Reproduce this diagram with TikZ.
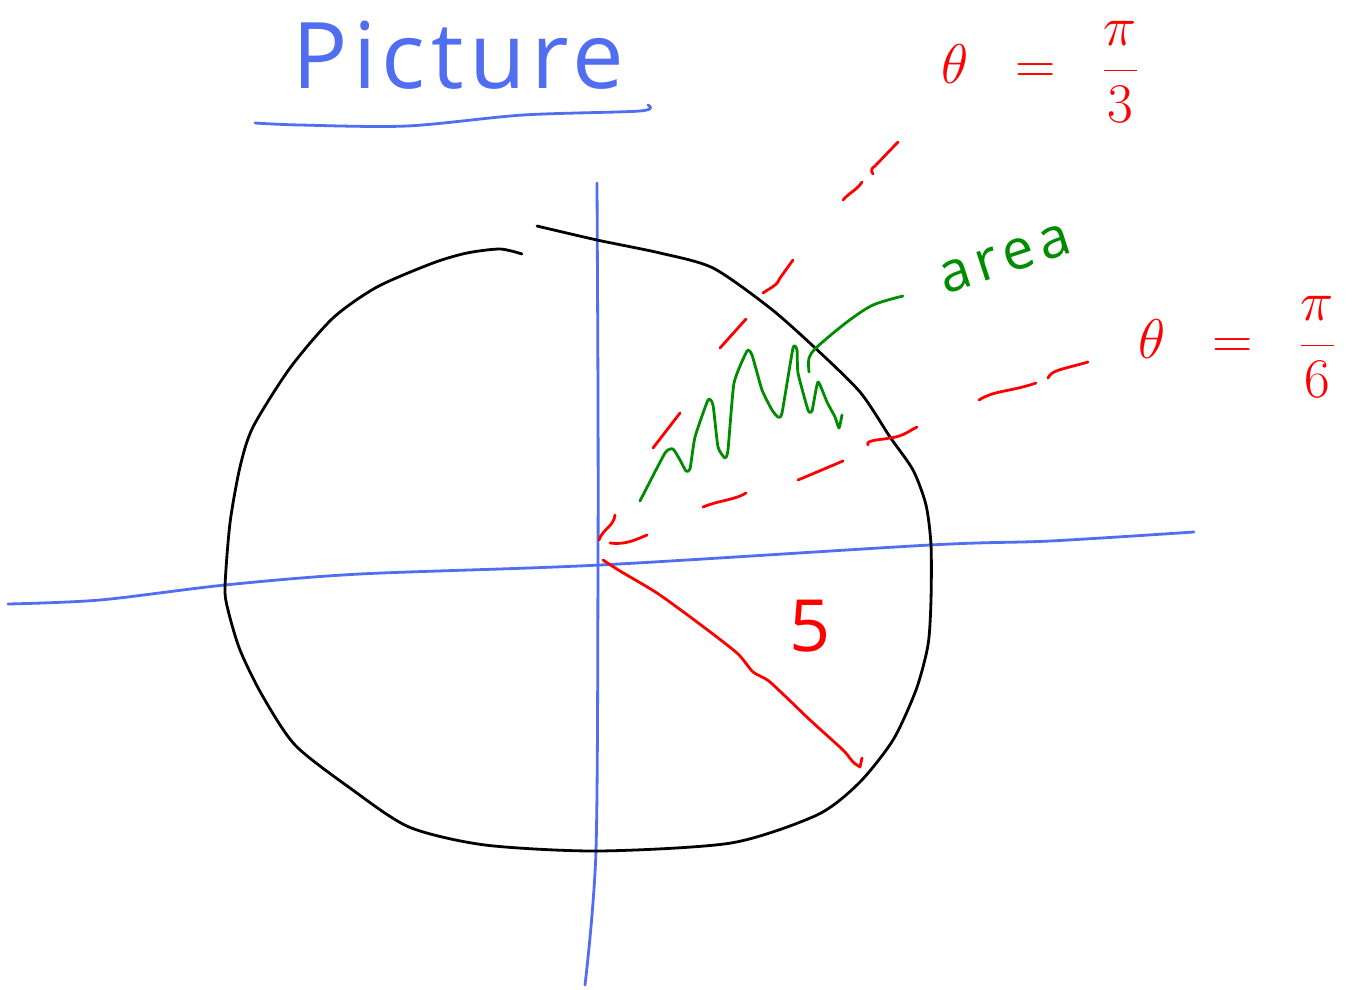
\RequirePackage{fix-cm}
\documentclass[tikz,border=0pt]{standalone}
\usepackage{fontspec}
\setsansfont{Open Sans}
\definecolor{penblue}{RGB}{82,110,240}
\definecolor{penred}{RGB}{255,0,0}
\definecolor{pengreen}{RGB}{0,140,0}
\tikzset{
  pen/.style={line width=2.8pt,line cap=round,line join=round},
  bluepen/.style={pen,draw=penblue},
  redpen/.style={pen,draw=penred},
  greenpen/.style={pen,draw=pengreen},
  blackpen/.style={pen,draw=black},
  label/.style={inner sep=0pt}
}
\begin{document}
\begin{tikzpicture}[x=1pt,y=-1pt]
\useasboundingbox (0,0) rectangle (1358,989);
\fill[white] (0,0) rectangle (1358,989);

% title
\node[label,anchor=base west,font=\sffamily\fontsize{92}{92}\selectfont\addfontfeature{LetterSpace=6},text=penblue] (title) at (292,88) {Picture};
\draw[bluepen] plot[smooth,tension=0.5] coordinates {(255,123) (300,125) (407,126) (523,115) (640,111) (648,105)};

% axes
\draw[bluepen] plot[smooth,tension=0.5] coordinates {(597,183) (598,400) (598,565) (596,850) (585,985)};
\draw[bluepen] plot[smooth,tension=0.5] coordinates {(8,604) (100,600) (225,585) (360,574) (600,565) (930,545) (1050,541) (1194,532)};

% curve
\draw[blackpen] plot[smooth,tension=0.45] coordinates {
 (537,226) (597,240) (660,253) (713,268) (770,308) (813,346) (860,392) (890,437) (913,470)
 (926,505) (931,545) (931,600) (928,645) (916,690) (893,740) (859,783) (817,815) (731,843)
 (598,851) (485,845) (409,827) (350,788) (295,745) (262,695) (240,650) (228,610) (225,587)
 (230,523) (240,467) (253,427) (290,368) (333,318) (377,287) (433,263) (467,253) (500,249) (522,254)};

% theta = pi/3 dashes
\draw[redpen] (599,540) .. controls (602,530) and (614,526) .. (615,515);
\draw[redpen] (653,448) -- (680,413);
\draw[redpen] (720,348) -- (746,319);
\draw[redpen] (763,293) .. controls (770,288) and (778,285) .. (780,278) -- (793,260);
\draw[redpen] (843,200) .. controls (850,192) and (857,190) .. (862,182);
\draw[redpen] (873,174) .. controls (870,170) and (872,168) .. (875,166) -- (898,142);

% theta = pi/6 dashes
\draw[redpen] (610,543) .. controls (625,545) and (635,540) .. (647,535);
\draw[redpen] (703,507) .. controls (720,500) and (735,500) .. (746,493);
\draw[redpen] (798,480) -- (843,461);
\draw[redpen] (868,445) .. controls (865,440) and (880,440) .. (890,438) .. controls (905,436) and (910,430) .. (917,427);
\draw[redpen] (979,400) .. controls (995,390) and (1010,392) .. (1036,383);
\draw[redpen] (1048,378) .. controls (1052,370) and (1060,370) .. (1088,362);

% radius
\draw[redpen] plot[smooth,tension=0.4] coordinates {(603,560) (620,571) (657,593) (697,622) (737,653) (753,672) (770,682) (810,720) (843,750) (853,762) (860,767)} -- (862,758);

% area zigzag
\draw[greenpen] plot[smooth,tension=0.3] coordinates {
 (640,501) (665,453) (673,449) (680,460) (686,471) (690,469) (695,437) (708,400) (713,405)
 (718,447) (725,458) (728,450) (734,383) (747,351) (752,355) (762,390) (772,410) (778,417)
 (782,413) (793,348) (797,350) (798,373) (808,410) (812,411) (818,382) (827,402) (835,417)
 (839,428) (842,415)};
% leader
\draw[greenpen] plot[smooth,tension=0.5] coordinates {(809,372) (809,358) (817,347) (847,322) (873,305) (903,296)};

% labels
\node[label,text=penred,font=\fontsize{56}{56}\selectfont] (th3) at (1040,72) {$\displaystyle\theta\;\;=\;\;\frac{\pi}{3}$};
\node[label,text=penred,font=\fontsize{56}{56}\selectfont] (th6) at (1237,347) {$\displaystyle\theta\;\;=\;\;\frac{\pi}{6}$};
\node[label,text=pengreen,rotate=18,font=\sffamily\fontsize{56}{56}\selectfont\addfontfeature{LetterSpace=12}] (area) at (1005,259) {area};
\node[label,text=penred,font=\sffamily\fontsize{72}{72}\selectfont] (five) at (810,626) {5};
\end{tikzpicture}
\end{document}
